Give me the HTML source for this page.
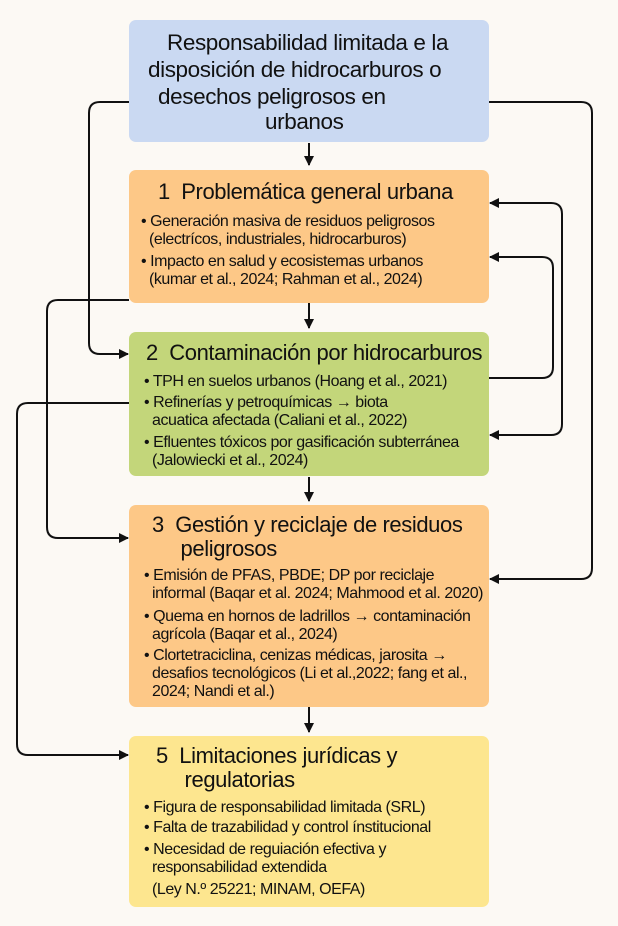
<!DOCTYPE html>
<html><head><meta charset="utf-8"><style>
body{margin:0;width:618px;height:926px;background:#fcf9f4;font-family:"Liberation Sans",sans-serif;color:#111;position:relative;overflow:hidden}
.b{position:absolute;left:129px;width:360px;border-radius:7px;box-sizing:border-box}
.t{position:absolute;font-size:22px;line-height:24px;white-space:nowrap;letter-spacing:-0.4px}
.h{position:absolute;font-size:22.5px;line-height:26px;white-space:nowrap;letter-spacing:-0.4px}
.l{position:absolute;font-size:16px;white-space:nowrap;letter-spacing:-0.45px;line-height:18px}
svg{position:absolute;left:0;top:0}
</style></head><body>
<div class="b" style="top:20px;height:122px;background:#cad9f2"></div>
<div class="b" style="top:170px;height:133px;background:#fdc887"></div>
<div class="b" style="top:332px;height:144px;background:#c3d67a"></div>
<div class="b" style="top:505px;height:202px;background:#fdc887"></div>
<div class="b" style="top:736px;height:171px;background:#fde68f"></div>

<div class="h" style="left:167px;top:30px">Responsabilidad limitada e la</div>
<div class="h" style="left:148px;top:57px">disposición de hidrocarburos o</div>
<div class="h" style="left:158px;top:84px">desechos peligrosos en</div>
<div class="h" style="left:265px;top:109px">urbanos</div>

<div class="t" style="left:158px;top:180px">1&nbsp; Problemática general urbana</div>
<div class="l" style="left:141px;top:213px">• Generación masiva de residuos peligrosos<br>&nbsp;&nbsp;(electrícos, industriales, hidrocarburos)</div>
<div class="l" style="left:141px;top:253px">• Impacto en salud y ecosistemas urbanos<br>&nbsp;&nbsp;(kumar et al., 2024; Rahman et al., 2024)</div>

<div class="t" style="left:146px;top:341px">2&nbsp; Contaminación por hidrocarburos</div>
<div class="l" style="left:144px;top:373px">• TPH en suelos urbanos (Hoang et al., 2021)</div>
<div class="l" style="left:144px;top:394px">• Refinerías y petroquímicas → biota<br>&nbsp;&nbsp;acuatica afectada (Caliani et al., 2022)</div>
<div class="l" style="left:144px;top:434px">• Efluentes tóxicos por gasificación subterránea<br>&nbsp;&nbsp;(Jalowiecki et al., 2024)</div>

<div class="t" style="left:152px;top:513px">3&nbsp; Gestión y reciclaje de residuos<br>&nbsp;&nbsp;&nbsp;&nbsp;&nbsp;peligrosos</div>
<div class="l" style="left:144px;top:567px">• Emisión de PFAS, PBDE; DP por reciclaje<br>&nbsp;&nbsp;informal (Baqar et al. 2024; Mahmood et al. 2020)</div>
<div class="l" style="left:144px;top:608px">• Quema en hornos de ladrillos → contaminación<br>&nbsp;&nbsp;agrícola (Baqar et al., 2024)</div>
<div class="l" style="left:144px;top:647px">• Clortetraciclina, cenizas médicas, jarosita →<br>&nbsp;&nbsp;desafios tecnológicos (Li et al.,2022; fang et al.,<br>&nbsp;&nbsp;2024; Nandi et al.)</div>

<div class="t" style="left:156px;top:744px">5&nbsp; Limitaciones jurídicas y<br>&nbsp;&nbsp;&nbsp;&nbsp;&nbsp;regulatorias</div>
<div class="l" style="left:144px;top:799px">• Figura de responsabilidad limitada (SRL)</div>
<div class="l" style="left:144px;top:819px">• Falta de trazabilidad y control ínstitucional</div>
<div class="l" style="left:144px;top:841px">• Necesidad de reguiación efectiva y<br>&nbsp;&nbsp;responsabilidad extendida</div>
<div class="l" style="left:144px;top:881px">&nbsp;&nbsp;(Ley N.º 25221; MINAM, OEFA)</div>

<svg width="618" height="926" fill="none" stroke="#111" stroke-width="2">
<defs>
<marker id="a" markerWidth="10" markerHeight="10" refX="9" refY="5" orient="auto" markerUnits="userSpaceOnUse"><path d="M0,0L10,5L0,10z" fill="#111" stroke="none"/></marker>
<marker id="s" markerWidth="10" markerHeight="10" refX="1" refY="5" orient="auto" markerUnits="userSpaceOnUse"><path d="M10,0L0,5L10,10z" fill="#111" stroke="none"/></marker>
</defs>
<path d="M309,143V165" marker-end="url(#a)"/>
<path d="M309,303V328" marker-end="url(#a)"/>
<path d="M309,477V501" marker-end="url(#a)"/>
<path d="M309,707V732" marker-end="url(#a)"/>
<path d="M129,102H100Q89,102 89,113V343Q89,354 100,354H128" marker-end="url(#a)"/>
<path d="M129,300H58Q47,300 47,311V527Q47,538 58,538H128" marker-end="url(#a)"/>
<path d="M129,403H28Q17,403 17,414V744Q17,755 28,755H128" marker-end="url(#a)"/>
<path d="M489,102H581Q592,102 592,113V568Q592,579 581,579H490" marker-end="url(#a)"/>
<path d="M490,203H551Q562,203 562,214V424Q562,435 551,435H490" marker-start="url(#s)" marker-end="url(#a)"/>
<path d="M489,378H542Q553,378 553,367V268Q553,257 542,257H490" marker-end="url(#a)"/>
</svg>
</body></html>
